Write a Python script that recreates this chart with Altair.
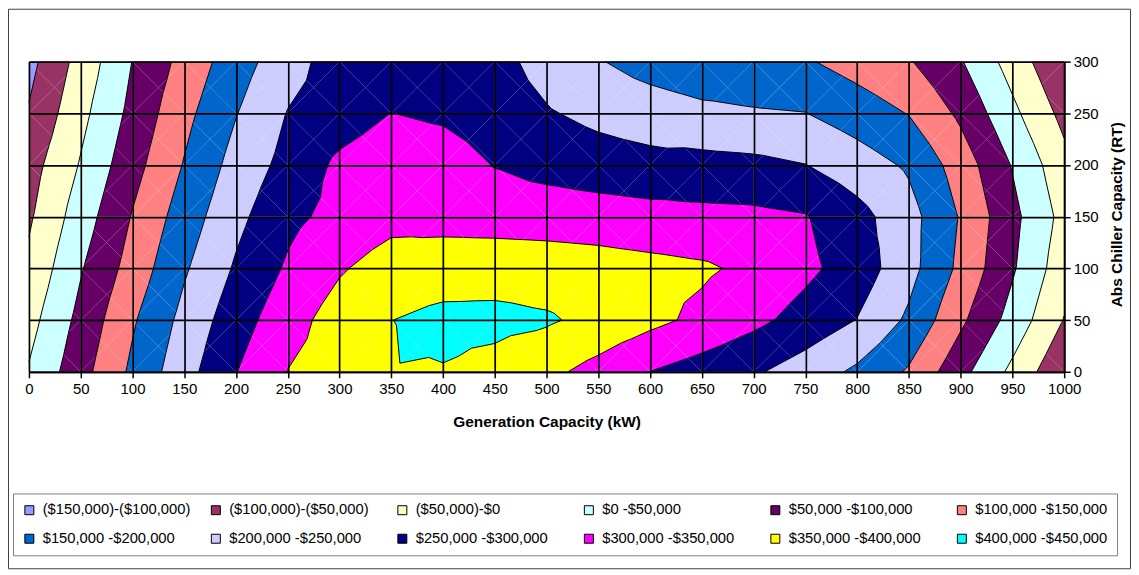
import altair as alt
import pandas as pd

# ---------------- data ----------------
x_vals = list(range(0, 1001, 50))          # Generation Capacity (kW)
y_vals = [0, 50, 100, 150, 200, 250, 300]  # Abs Chiller Capacity (RT)

# net value (thousand $) at each grid node, one list per chiller capacity row
z_rt0 = [4, 82, 160, 231, 298.6, 351, 375, 399, 397.5, 383.6, 362, 333, 299.5, 278, 256.5, 226.6, 191, 144, 66, -11.5, -93]
z_rt50 = [-17, 64.5, 144, 214.6, 278, 330, 372, 399.5, 412, 413.5, 406, 386, 362.6, 338.5, 312, 282, 248.6, 191, 109.7, 31.7, -52]
z_rt100 = [-39, 46, 120, 194, 256, 306.5, 345, 372, 378, 378, 375, 370, 364, 357, 339.5, 311, 278, 217, 138.5, 56, -29]
z_rt150 = [-57, 25, 103, 174, 237, 288, 315, 335, 332, 330, 328, 325, 318, 313, 311, 303, 267, 218, 146, 64, -16]
z_rt200 = [-71, 4, 82, 153, 218, 266, 310, 330, 325, 298, 283, 271, 265, 266, 262, 251, 223.5, 193, 127, 47, -34]
z_rt250 = [-96, -14, 64, 136, 198, 252, 276, 300.5, 292, 275, 254, 238, 225, 212, 205, 201, 176, 148, 90, 12, -65]
z_rt300 = [-115, -32, 51, 116, 178, 229, 275, 280, 282, 265, 233, 203, 180, 166, 163, 155, 130, 104, 54, -21, -97]

band_edges = [-150, -100, -50, 0, 50, 100, 150, 200, 250, 300, 350, 400, 450]
band_labels = [
    "($150,000)-($100,000)", "($100,000)-($50,000)", "($50,000)-$0",
    "$0 -$50,000", "$50,000 -$100,000", "$100,000 -$150,000",
    "$150,000 -$200,000", "$200,000 -$250,000", "$250,000 -$300,000",
    "$300,000 -$350,000", "$350,000 -$400,000", "$400,000 -$450,000",
]
band_colors = [
    "#9999FF", "#993366", "#FFFFCC", "#CCFFFF", "#660066", "#FF8080",
    "#0066CC", "#CCCCFF", "#000080", "#FF00FF", "#FFFF00", "#00FFFF",
]

# ---------------- contour tables built from the grid ----------------
Z = [z_rt0, z_rt50, z_rt100, z_rt150, z_rt200, z_rt250, z_rt300]


def clip(poly, level, keep_above):
    out = []
    n = len(poly)
    for i in range(n):
        P, Q = poly[i], poly[(i + 1) % n]
        dp, dq = P[2] - level, Q[2] - level
        if not keep_above:
            dp, dq = -dp, -dq
        if dp >= 0:
            out.append(P)
        if (dp >= 0) != (dq >= 0):
            t = dp / (dp - dq)
            out.append((P[0] + t * (Q[0] - P[0]), P[1] + t * (Q[1] - P[1]), level))
    return out


def area(poly):
    s = 0.0
    for i in range(len(poly)):
        a, b = poly[i], poly[(i + 1) % len(poly)]
        s += a[0] * b[1] - b[0] * a[1]
    return abs(s) / 2


fill_rows, line_rows = [], []
pid = sid = 0
nb = len(band_labels)
for j in range(len(y_vals) - 1):
    for i in range(len(x_vals) - 1):
        c = [(x_vals[i], y_vals[j], Z[j][i]), (x_vals[i + 1], y_vals[j], Z[j][i + 1]),
             (x_vals[i + 1], y_vals[j + 1], Z[j + 1][i + 1]), (x_vals[i], y_vals[j + 1], Z[j + 1][i])]
        m = ((x_vals[i] + x_vals[i + 1]) / 2, (y_vals[j] + y_vals[j + 1]) / 2, sum(p[2] for p in c) / 4)
        for k in range(4):
            tri = [c[k], c[(k + 1) % 4], m]
            for b in range(nb):
                poly = tri
                if b > 0:
                    poly = clip(poly, band_edges[b], True)
                if len(poly) >= 3 and b < nb - 1:
                    poly = clip(poly, band_edges[b + 1], False)
                if len(poly) >= 3 and area(poly) > 1e-6:
                    for o, p in enumerate(poly + [poly[0]]):
                        fill_rows.append({"gx": p[0], "gy": p[1], "pid": pid, "ord": o, "band": band_labels[b]})
                    pid += 1
            for lev in band_edges[1:-1]:
                pts = []
                for e in range(3):
                    P, Q = tri[e], tri[(e + 1) % 3]
                    if (P[2] >= lev) != (Q[2] >= lev):
                        t = (lev - P[2]) / (Q[2] - P[2])
                        pts.append((P[0] + t * (Q[0] - P[0]), P[1] + t * (Q[1] - P[1])))
                if len(pts) == 2:
                    for o, p in enumerate(pts):
                        line_rows.append({"gx": p[0], "gy": p[1], "sid": sid, "ord": o})
                    sid += 1

fill_df = pd.DataFrame(fill_rows)
line_df = pd.DataFrame(line_rows)

FONT = "Liberation Sans"
W, H = 1038, 311

x_enc = alt.X("gx:Q", scale=alt.Scale(domain=[0, 1000], nice=False, zero=False),
              axis=alt.Axis(values=x_vals, format="d", title="Generation Capacity (kW)",
                            grid=True, gridColor="black", gridWidth=1.7, gridOpacity=1,
                            domainColor="black", domainWidth=1.7, tickColor="black",
                            tickSize=6, tickWidth=1.5, labelFont=FONT, labelFontSize=15,
                            labelColor="black", labelPadding=4, labelFlush=False,
                            labelOverlap=False, titleFont=FONT, titleFontSize=15.5,
                            titleFontWeight="bold", titleColor="black", titleX=W / 2,
                            titleY=50, titleBaseline="middle", titleAlign="center", zindex=1))
y_enc = alt.Y("gy:Q", scale=alt.Scale(domain=[0, 300], nice=False, zero=False),
              axis=alt.Axis(orient="right", values=y_vals, format="d",
                            title="Abs Chiller Capacity (RT)", grid=True, gridColor="black",
                            gridWidth=1.7, gridOpacity=1, domainColor="black", domainWidth=1.7,
                            tickColor="black", tickSize=6, tickWidth=1.5, labelFont=FONT,
                            labelFontSize=15, labelColor="black", labelPadding=3,
                            labelFlush=False, labelOverlap=False, titleFont=FONT,
                            titleFontSize=15.5, titleFontWeight="bold", titleColor="black",
                            titleAngle=270, titleX=52, titleY=153, titleBaseline="middle",
                            titleAlign="center", zindex=1))

fills = alt.Chart(fill_df).mark_line(filled=True, interpolate="linear", strokeWidth=0).encode(
    x=x_enc, y=y_enc,
    color=alt.Color("band:N", scale=alt.Scale(domain=band_labels, range=band_colors),
                    legend=alt.Legend(orient="none", legendX=-16, legendY=433, columns=6,
                                      direction="horizontal", title=None, symbolType="square",
                                      symbolSize=81, symbolStrokeColor="black",
                                      symbolStrokeWidth=1, labelFont=FONT, labelFontSize=14.8,
                                      labelColor="black", labelLimit=400, strokeColor="#808080",
                                      padding=9, columnPadding=18, rowPadding=13, labelOffset=6,
                                      gridAlign="all")),
    detail="pid:N", order="ord:Q",
)

lines = alt.Chart(line_df).mark_line(color="black", strokeWidth=1).encode(
    x=x_enc, y=y_enc, detail="sid:N", order="ord:Q")

frame = alt.Chart(pd.DataFrame({"a": [0]})).mark_rect(
    fillOpacity=0, stroke="#404040", strokeWidth=1).encode(
    x=alt.value(-20.5), x2=alt.value(1104.5), y=alt.value(-52.5), y2=alt.value(508.5))

chart = alt.layer(fills, lines, frame).properties(
    width=W, height=H,
    padding={"left": 21, "top": 53, "right": 67, "bottom": 198},
    autosize=alt.AutoSizeParams(type="none"),
).configure_view(stroke="black", strokeWidth=1.7).configure(background="white")

chart.save("out.html", embed_options={"renderer": "svg", "actions": False})
